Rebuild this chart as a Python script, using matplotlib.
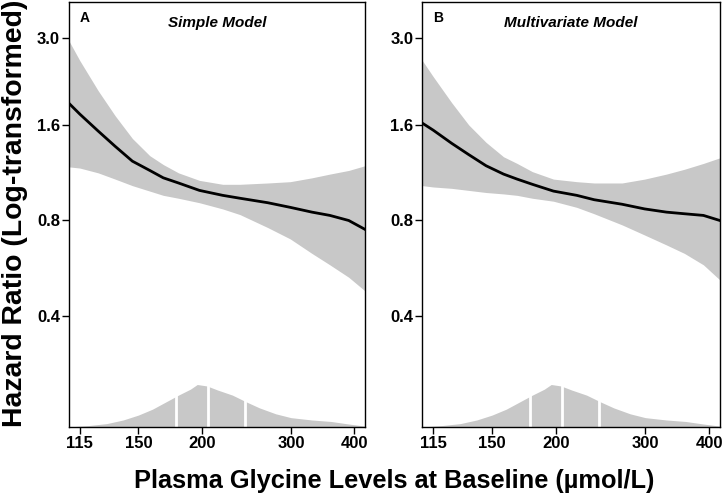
import numpy as np
import matplotlib
matplotlib.use("Agg")
import matplotlib.pyplot as plt
import matplotlib.transforms as mtransforms
from matplotlib.ticker import FixedLocator, NullLocator

plt.rcParams['font.family'] = ['Liberation Sans', 'DejaVu Sans']

# glycine levels (umol/L) at which the curves were read
glycine = [109.5, 115, 125, 135, 146, 158, 168, 180, 198, 220, 238, 270, 299, 330, 358, 390, 420]

# panel A - simple model
hr_a = [1.87, 1.73, 1.53, 1.37, 1.23, 1.15, 1.09, 1.05, 0.995, 0.96, 0.94, 0.91, 0.88, 0.85, 0.83, 0.80, 0.75]
up_a = [2.94, 2.55, 2.05, 1.71, 1.45, 1.28, 1.20, 1.13, 1.07, 1.04, 1.04, 1.05, 1.06, 1.09, 1.12, 1.15, 1.19]
lo_a = [1.18, 1.17, 1.13, 1.08, 1.03, 0.99, 0.96, 0.94, 0.91, 0.87, 0.835, 0.76, 0.70, 0.63, 0.58, 0.53, 0.48]

# panel B - multivariate model
hr_b = [1.62, 1.54, 1.40, 1.29, 1.19, 1.12, 1.08, 1.04, 0.99, 0.96, 0.93, 0.90, 0.87, 0.85, 0.84, 0.83, 0.80]
up_b = [2.55, 2.27, 1.88, 1.60, 1.41, 1.27, 1.21, 1.14, 1.08, 1.06, 1.05, 1.05, 1.08, 1.12, 1.16, 1.21, 1.26]
lo_b = [1.03, 1.02, 1.01, 0.995, 0.98, 0.97, 0.96, 0.94, 0.92, 0.88, 0.84, 0.775, 0.72, 0.67, 0.63, 0.58, 0.52]

# distribution of glycine (relative density, peak = 1)
dens_x = [109.5, 112, 120, 130, 140, 150, 160, 170, 180, 190, 196, 205, 215, 230, 245, 260, 280, 300, 330, 360, 390, 420]
dens_y = [0, 0.01, 0.035, 0.08, 0.165, 0.28, 0.42, 0.59, 0.75, 0.89, 1.0, 0.965, 0.87, 0.75, 0.59, 0.45, 0.31, 0.22, 0.165, 0.13, 0.07, 0.02]
quartiles = [178, 206, 243]

xticks = [115, 150, 200, 300, 400]
yticks = [0.4, 0.8, 1.6, 3.0]

panels = [
    ("A", "Simple Model", hr_a, up_a, lo_a, [0.0956, 0.146, 0.410, 0.850]),
    ("B", "Multivariate Model", hr_b, up_b, lo_b, [0.585, 0.146, 0.412, 0.850]),
]

fig = plt.figure(figsize=(7.22, 5.0), dpi=100)

for letter, title, hr, up, lo, pos in panels:
    ax = fig.add_axes(pos)
    ax.set_xscale('log')
    ax.set_yscale('log')
    ax.set_xlim(109.5, 420)
    ax.set_ylim(0.179, 3.9)

    ax.fill_between(glycine, lo, up, color='#c8c8c8', lw=0)
    ax.plot(glycine, hr, color='black', lw=2, solid_joinstyle='round')

    # density at the bottom, in axes fraction
    trans = mtransforms.blended_transform_factory(ax.transData, ax.transAxes)
    ax.fill_between(dens_x, 0, np.array(dens_y) * 0.1, color='#c8c8c8', lw=0, transform=trans)
    ax.vlines(quartiles, 0, 0.12, color='white', lw=2, transform=trans)

    ax.xaxis.set_major_locator(FixedLocator(xticks))
    ax.xaxis.set_minor_locator(NullLocator())
    ax.set_xticklabels([str(t) for t in xticks])
    ax.yaxis.set_major_locator(FixedLocator(yticks))
    ax.yaxis.set_minor_locator(NullLocator())
    ax.set_yticklabels(["%.1f" % t for t in yticks])
    ax.tick_params(length=5, width=1, labelsize=12, pad=1.5)
    for lab in ax.get_xticklabels() + ax.get_yticklabels():
        lab.set_fontweight('bold')
    for sp in ax.spines.values():
        sp.set_linewidth(1)

    ax.text(0.035, 0.978, letter, transform=ax.transAxes, fontsize=10,
            fontweight='bold', ha='left', va='top')
    ax.text(0.5, 0.968, title, transform=ax.transAxes, fontsize=11,
            fontweight='bold', style='italic', ha='center', va='top')

fig.text(0.021, 0.574, "Hazard Ratio (Log-transformed)", rotation=90,
         fontsize=20.4, fontweight='bold', ha='center', va='center')
fig.text(0.546, 0.038, "Plasma Glycine Levels at Baseline (µmol/L)",
         fontsize=18.3, fontweight='bold', ha='center', va='center')

fig.savefig("out.png", dpi=100)
